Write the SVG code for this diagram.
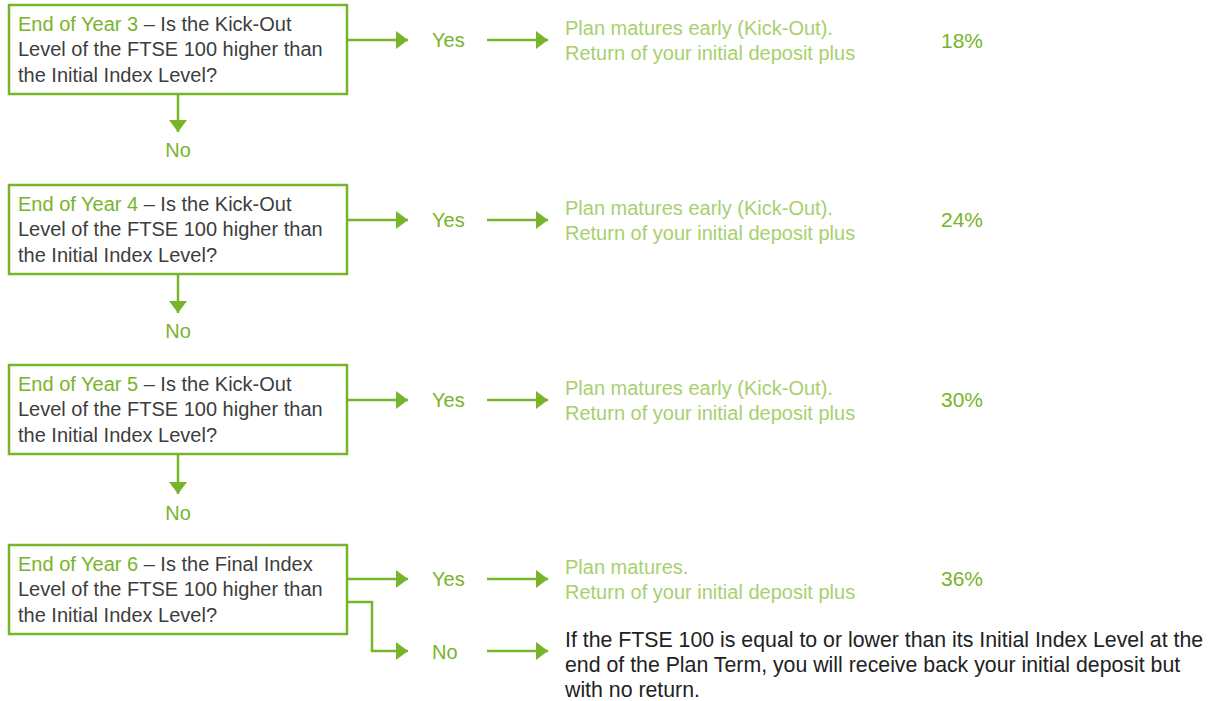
<svg xmlns="http://www.w3.org/2000/svg" width="1211" height="701" viewBox="0 0 1211 701">
<style>
text{font-family:"Liberation Sans",Arial,sans-serif;}
.box{fill:#fff;stroke:#78b42a;stroke-width:2.5;}
.q{font-size:20px;fill:#3d3d3d;}
.g{fill:#78b42a;}
.lbl{font-size:20px;fill:#78b42a;}
.plan{font-size:20px;fill:#a8d06e;}
.pct{font-size:21px;fill:#78b42a;}
.fin{font-size:21.3px;fill:#222;}
.c{fill:none;stroke:#78b42a;stroke-width:2.5;}
</style>
<defs>
<marker id="ah" markerUnits="userSpaceOnUse" markerWidth="13" markerHeight="18" refX="12" refY="9" orient="auto">
<path d="M0,0 L12,9 L0,18 Z" fill="#78b42a"/>
</marker>
</defs>
<rect width="1211" height="701" fill="#fff"/>
<g id="connectors">
<line class="c" x1="347" y1="40" x2="408" y2="40" marker-end="url(#ah)"/>
<line class="c" x1="487" y1="40" x2="548" y2="40" marker-end="url(#ah)"/>
<line class="c" x1="178" y1="94" x2="178" y2="132" marker-end="url(#ah)"/>
<line class="c" x1="347" y1="220" x2="408" y2="220" marker-end="url(#ah)"/>
<line class="c" x1="487" y1="220" x2="548" y2="220" marker-end="url(#ah)"/>
<line class="c" x1="178" y1="274" x2="178" y2="313" marker-end="url(#ah)"/>
<line class="c" x1="347" y1="400" x2="408" y2="400" marker-end="url(#ah)"/>
<line class="c" x1="487" y1="400" x2="548" y2="400" marker-end="url(#ah)"/>
<line class="c" x1="178" y1="454" x2="178" y2="494" marker-end="url(#ah)"/>
<line class="c" x1="347" y1="579" x2="408" y2="579" marker-end="url(#ah)"/>
<line class="c" x1="487" y1="579" x2="548" y2="579" marker-end="url(#ah)"/>
<polyline class="c" points="347,602 372,602 372,651 408,651" marker-end="url(#ah)"/>
<line class="c" x1="487" y1="651" x2="548" y2="651" marker-end="url(#ah)"/>
</g>
<g id="q1">
<rect class="box" x="9" y="5" width="338" height="89"/>
<text class="q" x="18" y="31"><tspan class="g">End of Year 3</tspan> – Is the Kick-Out</text>
<text class="q" x="18" y="56">Level of the FTSE 100 higher than</text>
<text class="q" x="18" y="82">the Initial Index Level?</text>
</g>
<g id="yes1"><text class="lbl" x="432" y="47">Yes</text></g>
<g id="r1"><text class="plan" x="565" y="35">Plan matures early (Kick-Out).</text><text class="plan" x="565" y="60">Return of your initial deposit plus</text></g>
<g id="p1"><text class="pct" x="941" y="48">18%</text></g>
<g id="no1"><text class="lbl" x="178" y="157" text-anchor="middle">No</text></g>

<g id="q2">
<rect class="box" x="9" y="185" width="338" height="89"/>
<text class="q" x="18" y="211"><tspan class="g">End of Year 4</tspan> – Is the Kick-Out</text>
<text class="q" x="18" y="236">Level of the FTSE 100 higher than</text>
<text class="q" x="18" y="262">the Initial Index Level?</text>
</g>
<g id="yes2"><text class="lbl" x="432" y="227">Yes</text></g>
<g id="r2"><text class="plan" x="565" y="215">Plan matures early (Kick-Out).</text><text class="plan" x="565" y="240">Return of your initial deposit plus</text></g>
<g id="p2"><text class="pct" x="941" y="227">24%</text></g>
<g id="no2"><text class="lbl" x="178" y="338" text-anchor="middle">No</text></g>

<g id="q3">
<rect class="box" x="9" y="365" width="338" height="89"/>
<text class="q" x="18" y="391"><tspan class="g">End of Year 5</tspan> – Is the Kick-Out</text>
<text class="q" x="18" y="416">Level of the FTSE 100 higher than</text>
<text class="q" x="18" y="442">the Initial Index Level?</text>
</g>
<g id="yes3"><text class="lbl" x="432" y="407">Yes</text></g>
<g id="r3"><text class="plan" x="565" y="395">Plan matures early (Kick-Out).</text><text class="plan" x="565" y="420">Return of your initial deposit plus</text></g>
<g id="p3"><text class="pct" x="941" y="407">30%</text></g>
<g id="no3"><text class="lbl" x="178" y="520" text-anchor="middle">No</text></g>

<g id="q4">
<rect class="box" x="9" y="545" width="338" height="89"/>
<text class="q" x="18" y="571"><tspan class="g">End of Year 6</tspan> – Is the Final Index</text>
<text class="q" x="18" y="596">Level of the FTSE 100 higher than</text>
<text class="q" x="18" y="622">the Initial Index Level?</text>
</g>
<g id="yes4"><text class="lbl" x="432" y="586">Yes</text></g>
<g id="r4"><text class="plan" x="565" y="574">Plan matures.</text><text class="plan" x="565" y="599">Return of your initial deposit plus</text></g>
<g id="p4"><text class="pct" x="941" y="586">36%</text></g>
<g id="no4"><text class="lbl" x="432" y="659">No</text></g>
<g id="final">
<text class="fin" x="565" y="647">If the FTSE 100 is equal to or lower than its Initial Index Level at the</text>
<text class="fin" x="565" y="672">end of the Plan Term, you will receive back your initial deposit but</text>
<text class="fin" x="565" y="697">with no return.</text>
</g>
</svg>
